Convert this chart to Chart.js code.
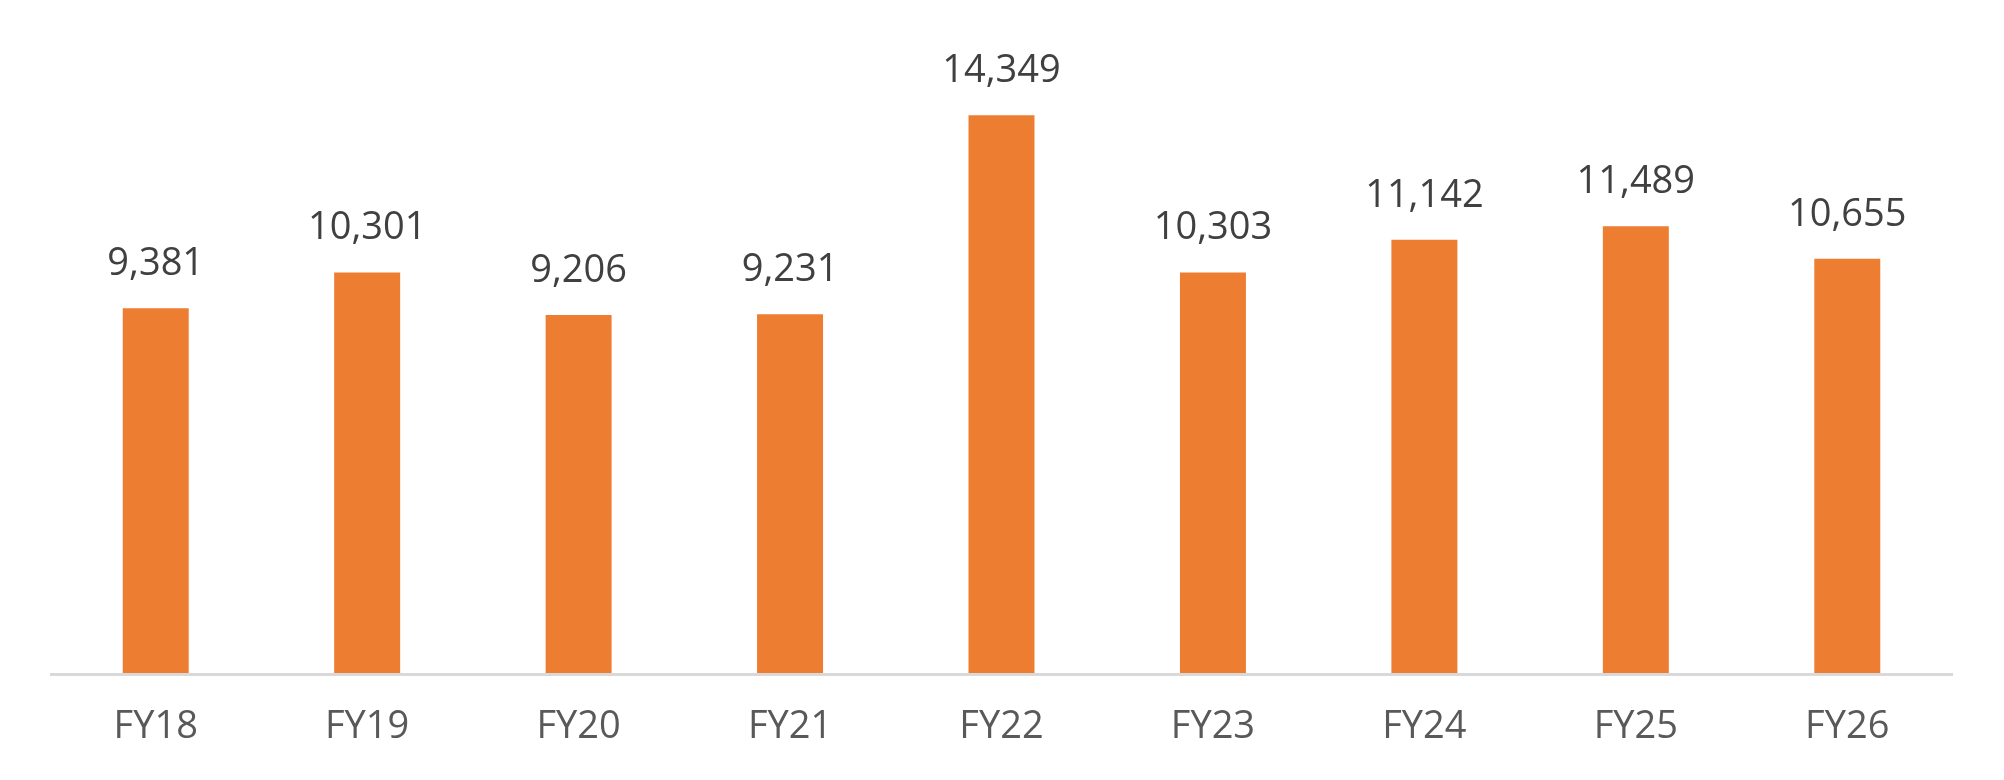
<!DOCTYPE html>
<html lang="en">
<head>
    <meta charset="UTF-8">
    <title>FY chart</title>
    <script src="https://cdn.jsdelivr.net/npm/chart.js"></script>
    <style>
        html, body { margin: 0; padding: 0; background: #fff; }
        #grafico { display: block; }
    </style>
</head>
<body>
    <canvas id="grafico" width="2004" height="780"></canvas>

    <script>
// dados
const anos = ['FY18', 'FY19', 'FY20', 'FY21', 'FY22', 'FY23', 'FY24', 'FY25', 'FY26'];
const valores = [9381, 10301, 9206, 9231, 14349, 10303, 11142, 11489, 10655];

const fonte = "'Open Sans', 'Liberation Sans', sans-serif";

// rótulos de valor acima das barras + linha do eixo
const rotulos = {
    id: 'rotulos',
    beforeDatasetsDraw(chart) {
        const ctx = chart.ctx;
        const area = chart.chartArea;
        ctx.save();
        ctx.strokeStyle = '#d9d9d9';
        ctx.lineWidth = 3;
        ctx.beginPath();
        ctx.moveTo(area.left, area.bottom + 1.5);
        ctx.lineTo(area.right, area.bottom + 1.5);
        ctx.stroke();
        ctx.restore();
    },
    afterDatasetsDraw(chart) {
        const ctx = chart.ctx;
        const meta = chart.getDatasetMeta(0);
        ctx.save();
        ctx.font = "38px " + fonte;
        ctx.fillStyle = '#404040';
        ctx.textAlign = 'center';
        ctx.textBaseline = 'middle';
        meta.data.forEach((barra, i) => {
            ctx.fillText(valores[i].toLocaleString('en-US'), barra.x, barra.y - 44);
        });
        ctx.restore();
    }
};

new Chart(document.getElementById('grafico'), {
    type: 'bar',
    data: {
        labels: anos,
        datasets: [{
            data: valores,
            backgroundColor: '#ed7d31',
            categoryPercentage: 1,
            barPercentage: 0.312
        }]
    },
    options: {
        responsive: false,
        animation: false,
        devicePixelRatio: 1,
        layout: { padding: { top: 51, left: 50, right: 51, bottom: 0 } },
        plugins: { legend: { display: false }, tooltip: { enabled: false } },
        scales: {
            y: { display: false, min: 0, max: 16000 },
            x: {
                afterFit(scale) { scale.height = 107; },
                grid: { display: false, drawTicks: false },
                border: { display: false },
                ticks: {
                    padding: 31,
                    maxRotation: 0,
                    color: '#595959',
                    font: { size: 38, family: fonte }
                }
            }
        }
    },
    plugins: [rotulos]
});
    </script>
</body>
</html>
